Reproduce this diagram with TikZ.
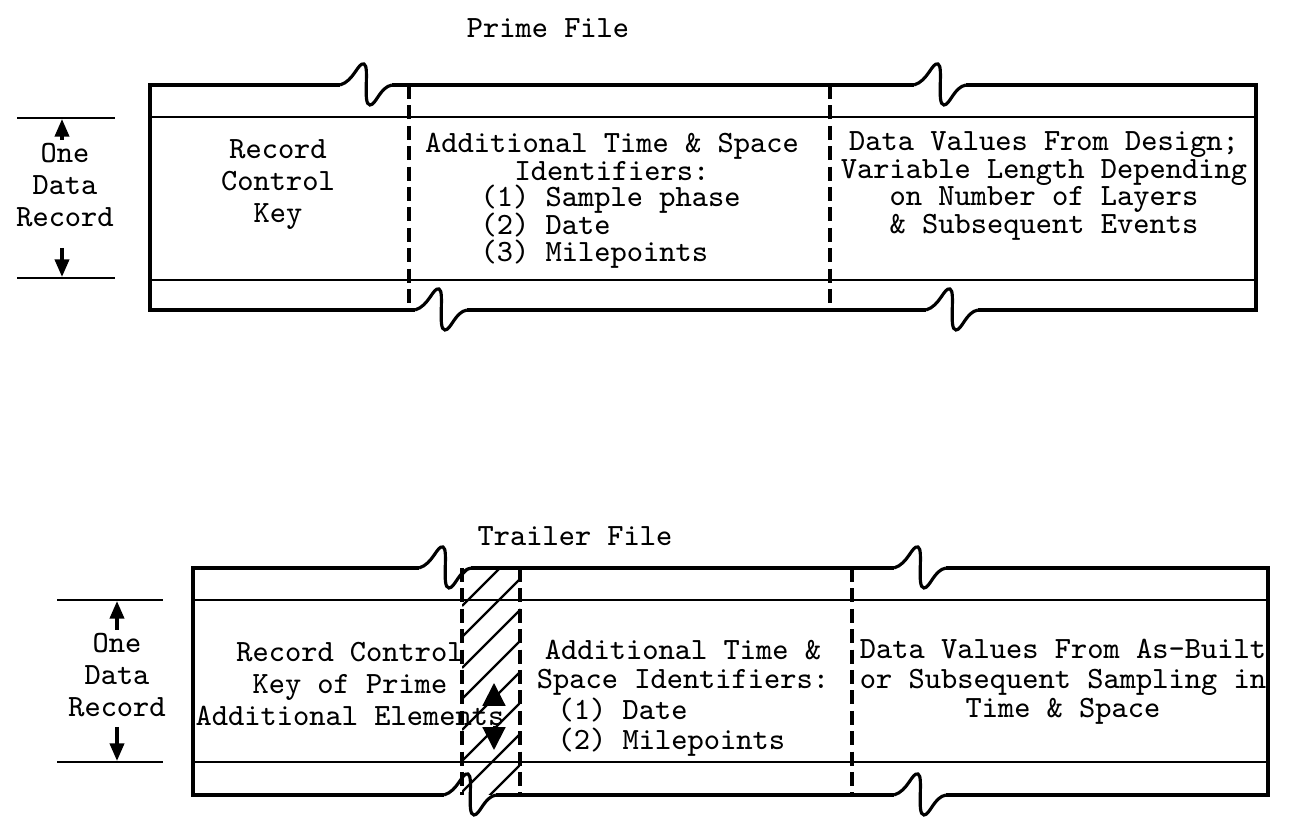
\documentclass[tikz,border=0pt]{standalone}
\usetikzlibrary{arrows.meta}
\begin{document}
\begin{tikzpicture}[x=0.01cm, y=-0.01cm,
    box/.style={line width=0.9pt},
    rule/.style={line width=0.6pt},
    divider/.style={line width=1pt, dash pattern=on 4pt off 1.8pt},
    dimarr/.style={line width=1pt, -{Triangle[length=5pt,width=4pt]}},
    bigarr/.style={line width=0.6pt, -{Triangle[length=6.5pt,width=6.5pt]}},
    lbl/.style={font=\ttfamily\fontsize{8.8}{9.1}\selectfont, align=center, inner sep=0pt,
      execute at begin node={\lineskiplimit=-20pt}},
    tight/.style={font=\ttfamily\fontsize{8.8}{7.8}\selectfont},
    mid/.style={font=\ttfamily\fontsize{8.8}{8.4}\selectfont},
    brk/.pic={\draw[box] (-26,0) .. controls (-12,-4) and (-8,-23) .. (-2,-21)
                 .. controls (4,-19) and (-4,20) .. (4,20)
                 .. controls (10,20) and (14,2) .. (26,0);}]
  \useasboundingbox (0,0) rectangle (1290,819);

  % prime file
  \node[lbl] (prTitle) at (548,28) {Prime File};
  \draw[box] (340,85) -- (150,85) -- (150,310) -- (415,310);
  \draw[box] (467,310) -- (926,310);
  \draw[box] (978,310) -- (1256,310) -- (1256,85) -- (966,85);
  \draw[box] (914,85) -- (392,85);
  \pic at (366,85) {brk};
  \pic at (940,85) {brk};
  \pic at (441,310) {brk};
  \pic at (952,310) {brk};
  \draw[rule] (150,117) -- (1256,117);
  \draw[rule] (150,280) -- (1256,280);
  \draw[divider] (409,85) -- (409,310);
  \draw[divider] (830,85) -- (830,310);

  \draw[rule] (17,118) -- (115,118);
  \draw[rule] (17,278) -- (115,278);
  \draw[dimarr] (62,140) -- (62,119);
  \draw[dimarr] (62,248) -- (62,277);
  \node[lbl] (prOne) at (65,185) {One\\Data\\Record};

  \node[lbl] (prKey) at (278,185) {Record\\Control\\Key};
  \node[lbl, tight] (prId) at (612,157) {Additional Time \& Space\\Identifiers:};
  \node[lbl, tight, align=left, anchor=west] (prList) at (480,227)
    {(1) Sample phase\\(2) Date\\(3) Milepoints};
  \node[lbl, tight] (prVal) at (1044,186)
    {Data Values From Design;\\Variable Length Depending\\on Number of Layers\\\& Subsequent Events};

  % trailer file
  \node[lbl] (trTitle) at (575,536) {Trailer File};
  \begin{scope}
    \clip (462,568) rectangle (520,795);
    \foreach \k in {0,...,9}
      \draw[line width=0.7pt] (462,{575+\k*31}) -- ++(100,-100);
  \end{scope}
  \draw[box] (419,568) -- (193,568) -- (193,795) -- (444,795);
  \draw[box] (496,795) -- (894,795);
  \draw[box] (946,795) -- (1268,795) -- (1268,568) -- (946,568);
  \draw[box] (894,568) -- (471,568);
  \pic at (445,568) {brk};
  \pic at (920,568) {brk};
  \pic at (470,795) {brk};
  \pic at (920,795) {brk};
  \draw[rule] (193,600) -- (1268,600);
  \draw[rule] (193,762) -- (1268,762);
  \draw[divider] (462,568) -- (462,795);
  \draw[divider] (520,568) -- (520,795);
  \draw[divider] (852,568) -- (852,795);

  \draw[rule] (57,600) -- (163,600);
  \draw[rule] (57,762) -- (163,762);
  \draw[dimarr] (117,630) -- (117,601);
  \draw[dimarr] (117,727) -- (117,761);
  \node[lbl] (trOne) at (117,675) {One\\Data\\Record};

  \node[lbl] (trKey) at (350,684) {Record Control\\Key of Prime\\Additional Elements};
  \draw[bigarr] (494,706) -- (494,683);
  \draw[bigarr] (494,726) -- (494,750);
  \node[lbl, mid] (trId) at (683,668) {Additional Time \&\\Space Identifiers:};
  \node[lbl, mid, align=left, anchor=west] (trList) at (557,727) {(1) Date\\(2) Milepoints};
  \node[lbl, mid] (trVal) at (1063,682)
    {Data Values From As-Built\\or Subsequent Sampling in\\Time \& Space};
\end{tikzpicture}
\end{document}
